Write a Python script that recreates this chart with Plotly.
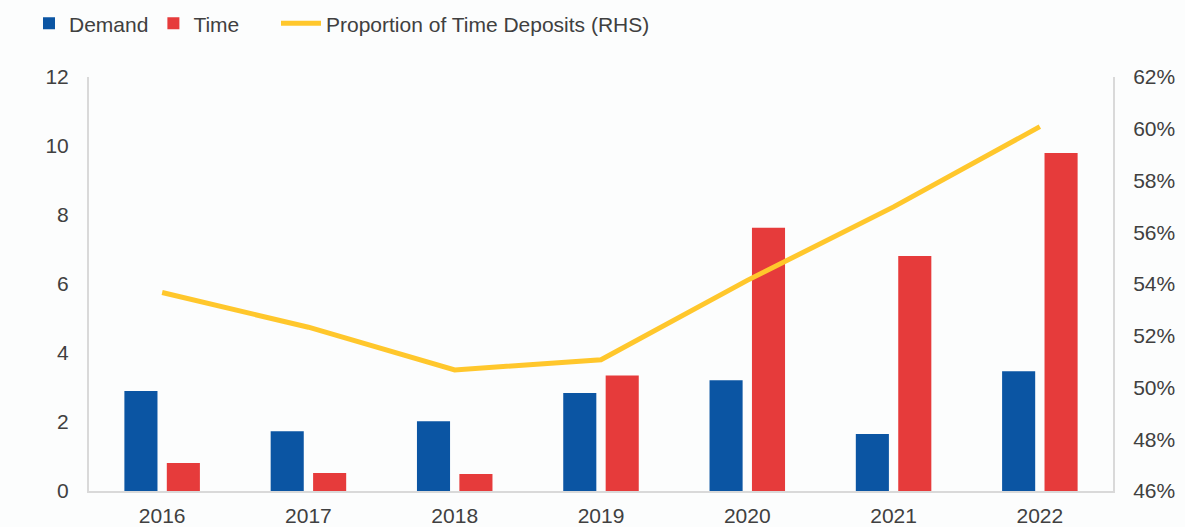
import plotly.graph_objects as go

years = ["2016", "2017", "2018", "2019", "2020", "2021", "2022"]
demand = [2.90, 1.73, 2.02, 2.84, 3.21, 1.65, 3.47]
time_dep = [0.81, 0.52, 0.49, 3.35, 7.63, 6.81, 9.80]
prop_time = [53.67, 52.33, 50.68, 51.07, 54.14, 56.98, 60.08]

left_ticks = [0, 2, 4, 6, 8, 10, 12]
right_ticks = [46, 48, 50, 52, 54, 56, 58, 60, 62]
right_labels = [f"{v}%" for v in right_ticks]

font_family = "Liberation Sans, Arial, sans-serif"
text_color = "#404040"
bg = "#fcfdfd"

fig = go.Figure()
fig.add_trace(go.Bar(x=years, y=demand, name="Demand",
                     marker=dict(color="#0B55A3", line=dict(width=0)), legend="legend"))
fig.add_trace(go.Bar(x=years, y=time_dep, name="Time",
                     marker=dict(color="#E63B3B", line=dict(width=0)), legend="legend"))
fig.add_trace(go.Scatter(x=years, y=prop_time, name="Proportion of Time Deposits (RHS)", mode="lines",
                         line=dict(color="#FFC72C", width=5), yaxis="y2", legend="legend2"))

fig.update_layout(
    width=1185, height=527,
    margin=dict(l=89, r=72, t=77, b=36),
    paper_bgcolor=bg, plot_bgcolor=bg,
    font=dict(family=font_family, size=21, color=text_color),
    barmode="group", bargap=0.42, bargroupgap=0.22,
    showlegend=True,
    legend=dict(orientation="h", xref="container", yref="container",
                x=29 / 1185, xanchor="left", y=0.994, yanchor="top",
                font=dict(size=21, color=text_color), bgcolor="rgba(0,0,0,0)",
                traceorder="normal", itemwidth=30),
    legend2=dict(orientation="h", xref="container", yref="container",
                 x=276 / 1185, xanchor="left", y=0.994, yanchor="top",
                 font=dict(size=21, color=text_color), bgcolor="rgba(0,0,0,0)",
                 itemwidth=40),
    xaxis=dict(showgrid=False, showline=True, linecolor="#d9d9d9", linewidth=2,
               ticks="", ticklabelstandoff=5, zeroline=False, automargin=False),
    yaxis=dict(range=[0, 12], tickvals=left_ticks, showgrid=False, zeroline=False,
               showline=True, linecolor="#d9d9d9", linewidth=2, ticks="",
               ticklabelstandoff=14, automargin=False),
    yaxis2=dict(range=[46, 62], tickvals=right_ticks, ticktext=right_labels, overlaying="y",
                side="right", showgrid=False, zeroline=False, showline=True,
                linecolor="#d9d9d9", linewidth=2, ticks="", ticklabelstandoff=14,
                automargin=False),
)

fig.write_html("out.html", config={"displayModeBar": False},
               post_script="document.body.style.margin='0';document.body.style.overflow='hidden';")
